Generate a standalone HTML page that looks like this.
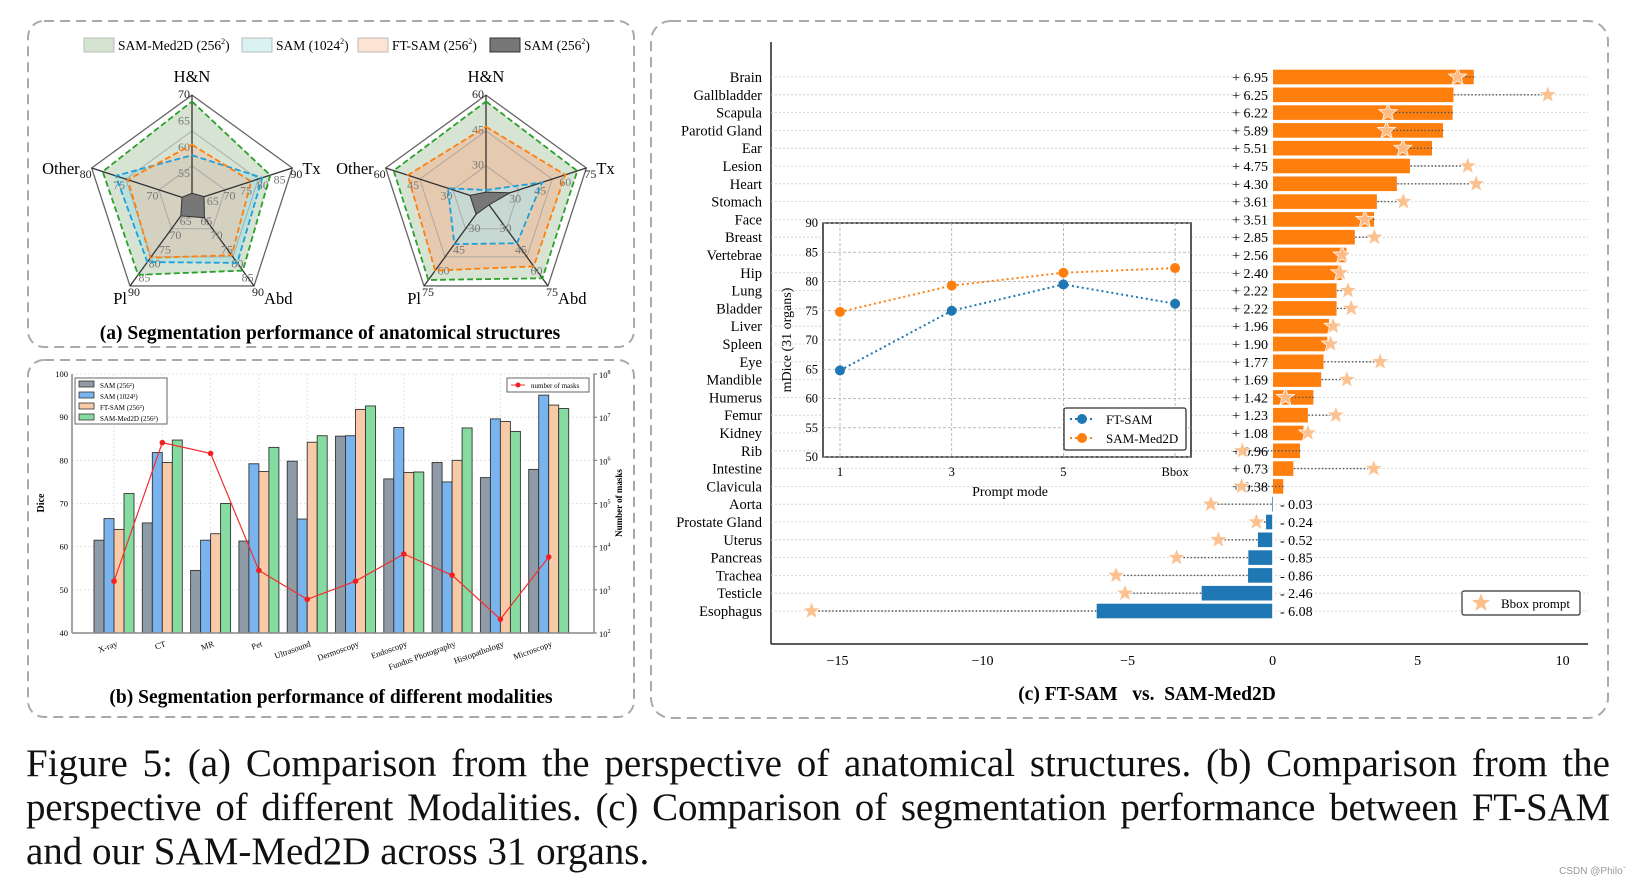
<!DOCTYPE html>
<html><head><meta charset="utf-8"><style>
html,body{margin:0;padding:0;background:#fff;}
body{width:1638px;height:886px;overflow:hidden;position:relative;font-family:"Liberation Serif",serif;}
svg{position:absolute;left:0;top:0;}
#caption{position:absolute;left:26px;top:742px;width:1584px;font-size:39px;line-height:44px;color:#111;font-family:"Liberation Serif",serif;}
#caption .ln{text-align:justify;text-align-last:justify;white-space:nowrap;}
#caption .l2{letter-spacing:-0.2px;}
#caption .last{text-align:left;text-align-last:left;}
#wm{position:absolute;right:12px;top:866px;font-size:10px;color:#999;font-family:"Liberation Sans",sans-serif;}
</style></head><body>
<svg id="fig" width="1638" height="886" xmlns="http://www.w3.org/2000/svg" font-family="Liberation Serif, serif">
  <rect x="28" y="21" width="606" height="326" rx="16" fill="none" stroke="#aaa" stroke-width="2" stroke-dasharray="10,6"/>
  <rect x="28" y="360" width="606" height="357" rx="16" fill="none" stroke="#aaa" stroke-width="2" stroke-dasharray="10,6"/>
  <rect x="651" y="21" width="957" height="697" rx="20" fill="none" stroke="#aaa" stroke-width="2" stroke-dasharray="10,6"/>
  <g id="ga"></g><g id="gb"></g><g id="gc"></g>
  <text x="330" y="339" text-anchor="middle" font-size="19.5" font-weight="bold">(a) Segmentation performance of anatomical structures</text>
  <text x="331" y="703" text-anchor="middle" font-size="19.5" font-weight="bold">(b) Segmentation performance of different modalities</text>
  <text x="1147" y="700" text-anchor="middle" font-size="19.5" font-weight="bold" xml:space="preserve">(c) FT-SAM   vs.  SAM-Med2D</text>
</svg>
<div id="caption"><div class="ln">Figure 5: (a) Comparison from the perspective of anatomical structures. (b) Comparison from the</div><div class="ln l2">perspective of different Modalities. (c) Comparison of segmentation performance between FT-SAM</div><div class="ln last">and our SAM-Med2D across 31 organs.</div></div>
<div id="wm">CSDN @Philo`</div>
<script>
// ---------- Panel (a) radar data (fraction of radius, axes: H&N, Tx, Abd, Pl, Other)
const radarAxes = ["H&N","Tx","Abd","Pl","Other"];
const radarLeftMed2D = [0.94,0.78,0.82,0.87,0.89];
const radarLeftSAM1024 = [0.43,0.70,0.73,0.72,0.76];
const radarLeftFTSAM = [0.53,0.59,0.64,0.67,0.64];
const radarLeftSAM256 = [0.07,0.12,0.2,0.18,0.1];
const radarRightMed2D = [0.94,0.91,0.91,0.93,0.92];
const radarRightSAM1024 = [0.10,0.56,0.50,0.51,0.38];
const radarRightFTSAM = [0.70,0.79,0.77,0.82,0.78];
const radarRightSAM256 = [0.08,0.24,0.05,0.16,0.16];
const radarLeftTicks = [["70","65","60","55"],["90","85","80","75","70","65"],["90","85","80","75","70","65"],["90","85","80","75","70","65"],["80","75","70"]];
const radarRightTicks = [["60","45","30"],["75","60","45","30"],["75","60","45","30"],["75","60","45","30"],["60","45","30"]];

// ---------- Panel (b) data
const modalities = ["X-ray","CT","MR","Pet","Ultrasound","Dermoscopy","Endoscopy","Fundus Photography","Histopathology","Microscopy"];
const diceSAM256 = [61.5,65.5,54.5,61.3,79.8,85.6,75.7,79.5,76,77.9];
const diceSAM1024 = [66.5,81.8,61.5,79.2,66.4,85.7,87.6,75,89.6,95.1];
const diceFTSAM = [64,79.5,63,77.4,84.2,91.8,77.2,80,89,92.8];
const diceMed2D = [72.3,84.7,70,83,85.7,92.6,77.3,87.5,86.7,92];
const maskLog10 = [3.2,6.41,6.16,3.45,2.78,3.2,3.83,3.34,2.32,3.76];
const diceTicks = [40,50,60,70,80,90,100];
const maskTicks = [2,3,4,5,6,7,8];

// ---------- Panel (c) data
const organs = ["Brain","Gallbladder","Scapula","Parotid Gland","Ear","Lesion","Heart","Stomach","Face","Breast","Vertebrae","Hip","Lung","Bladder","Liver","Spleen","Eye","Mandible","Humerus","Femur","Kidney","Rib","Intestine","Clavicula","Aorta","Prostate Gland","Uterus","Pancreas","Trachea","Testicle","Esophagus"];
const diffValues = [6.95,6.25,6.22,5.89,5.51,4.75,4.30,3.61,3.51,2.85,2.56,2.40,2.22,2.22,1.96,1.90,1.77,1.69,1.42,1.23,1.08,0.96,0.73,0.38,-0.03,-0.24,-0.52,-0.85,-0.86,-2.46,-6.08];
const bboxValues = [6.38,9.49,3.98,3.93,4.49,6.73,7.02,4.51,3.18,3.51,2.4,2.33,2.6,2.71,2.09,2.0,3.71,2.56,0.44,2.18,1.22,-1.04,3.49,-1.07,-2.13,-0.56,-1.87,-3.31,-5.4,-5.09,-15.9];
const diffTicks = [-15,-10,-5,0,5,10];
const promptModes = ["1","3","5","Bbox"];
const insetFTSAM = [64.8,75,79.5,76.2];
const insetMed2D = [74.8,79.3,81.5,82.3];
const insetTicks = [50,55,60,65,70,75,80,85,90];

const NS="http://www.w3.org/2000/svg";
function mk(parent,tag,attrs,text){const e=document.createElementNS(NS,tag);for(const k in attrs)e.setAttribute(k,attrs[k]);if(text!==undefined)e.textContent=text;parent.appendChild(e);return e;}

// ===== Panel A =====
const ga=document.getElementById('ga');
const legA=[["SAM-Med2D (256","rgba(150,185,140,0.4)","#bbb",84],["SAM (1024","rgba(160,225,225,0.4)","#bbb",242],["FT-SAM (256","rgba(250,200,165,0.5)","#bbb",358],["SAM (256","#777","#333",490]];
legA.forEach(l=>{
  const sw=mk(ga,'rect',{x:l[3],y:38,width:30,height:14,fill:l[1],stroke:l[2]});
  
  
  const t=mk(ga,'text',{x:l[3]+34,y:50,'font-size':13.5});
  
  
  mk(t,'tspan',{},l[0]);mk(t,'tspan',{'font-size':8,dy:-6},'2');mk(t,'tspan',{dy:6},')');
});
function radar(cx,cy,R,series,ticks,name){
  const g=mk(ga,'g',{});
  
  
  const ang=i=>(-90+72*i)*Math.PI/180;
  const pt=(i,f)=>[cx+R*f*Math.cos(ang(i)),cy+R*f*Math.sin(ang(i))];
  const poly=fs=>fs.map((f,i)=>pt(i,f).join(',')).join(' ');
  series.forEach(s=>{ if(s.fill){const p=mk(g,'polygon',{points:poly(s.v),fill:s.fill,stroke:'none'});
    
    }});
  [1].forEach(f=>mk(g,'polygon',{points:poly([f,f,f,f,f]),fill:'none',stroke:'#666','stroke-width':1.3}));
  [0.33,0.66].forEach(f=>mk(g,'polygon',{points:poly([f,f,f,f,f]),fill:'none',stroke:'#999','stroke-width':1,opacity:0.7}));
  for(let i=0;i<5;i++){const p=pt(i,1);mk(g,'line',{x1:cx,y1:cy,x2:p[0],y2:p[1],stroke:'#333','stroke-width':1.3});}
  ticks.forEach((tl,i)=>{tl.forEach((t,k)=>{const f=1-k*(1/(tl.length));const p=pt(i,f);
    const tt=mk(g,'text',{x:p[0]+(i==0?-8:(i==4?-6:4)),y:p[1]+(i==0?3:10),'font-size':12,fill:k==0?'#222':'#777','text-anchor':'middle'},t);
    
    });});
  series.forEach(s=>{const p=mk(g,'polygon',{points:poly(s.v),fill:s.solid||'none',stroke:s.stroke,'stroke-width':s.solid?1:1.8,'stroke-dasharray':s.solid?'':'6,3'});
    
    });
  const lp=[[cx,cy-R-13,'middle'],[cx+R*0.951+10,cy-R*0.309+6,'start'],[cx+R*0.588+10,cy+R*0.809+18,'start'],[cx-R*0.588-3,cy+R*0.809+18,'end'],[cx-R*0.951-12,cy-R*0.309+6,'end']];
  radarAxes.forEach((a,i)=>{const t=mk(g,'text',{x:lp[i][0],y:lp[i][1],'text-anchor':lp[i][2],'font-size':16.5},a);
    
    });
}
radar(192,200.6,105.5,[
 {n:'sam-med2d',v:radarLeftMed2D,fill:'rgba(150,185,140,0.38)',stroke:'#2ca02c'},
 {n:'sam-1024',v:radarLeftSAM1024,fill:'rgba(150,220,230,0.45)',stroke:'#1f9fd8'},
 {n:'ft-sam',v:radarLeftFTSAM,fill:'rgba(245,190,160,0.45)',stroke:'#ff7f0e'},
 {n:'sam-256',v:radarLeftSAM256,stroke:'#333',solid:'#777'}],radarLeftTicks,'radar-left');
radar(486,200.6,105.5,[
 {n:'sam-med2d',v:radarRightMed2D,fill:'rgba(150,185,140,0.38)',stroke:'#2ca02c'},
 {n:'ft-sam',v:radarRightFTSAM,fill:'rgba(245,175,140,0.5)',stroke:'#ff7f0e'},
 {n:'sam-1024',v:radarRightSAM1024,fill:'rgba(180,225,235,0.6)',stroke:'#1f9fd8'},
 {n:'sam-256',v:radarRightSAM256,stroke:'#333',solid:'#777'}],radarRightTicks,'radar-right');

// ===== Panel B =====
const gb=document.getElementById('gb');
const bx0=72,bx1=594,by0=633,by1=374;
const yb=v=>by0+(v-40)/60*(by1-by0);
const ybm=l=>by0+(l-2)/6*(by1-by0);
const xb=i=>114+i*48.3;
diceTicks.forEach(t=>{
  mk(gb,'line',{x1:bx0,x2:bx1,y1:yb(t),y2:yb(t),stroke:'#ddd','stroke-dasharray':'2,2','stroke-width':0.8});
  const tl=mk(gb,'text',{x:bx0-4,y:yb(t)+3,'text-anchor':'end','font-size':8.5},String(t));
  
  
});
maskTicks.forEach(t=>{
  const tl=mk(gb,'text',{x:bx1+5,y:ybm(t)+4,'font-size':8.5});
  
  
  mk(tl,'tspan',{},'10');mk(tl,'tspan',{'font-size':6,dy:-4},String(t));
  mk(gb,'line',{x1:bx1,x2:bx1+3,y1:ybm(t),y2:ybm(t),stroke:'#666'});
});
const barSeries=[[diceSAM256,'#8f9ba6','sam-256'],[diceSAM1024,'#7ab4ee','sam-1024'],[diceFTSAM,'#f9caa7','ft-sam'],[diceMed2D,'#86dba1','sam-med2d']];
modalities.forEach((m,i)=>{
  mk(gb,'line',{x1:xb(i),x2:xb(i),y1:by1,y2:by0,stroke:'#ddd','stroke-dasharray':'2,2','stroke-width':0.8});
  barSeries.forEach((s,k)=>{
    const x=xb(i)-20+k*10, y=yb(s[0][i]);
    const r=mk(gb,'rect',{x:x,y:y,width:10,height:by0-y,fill:s[1],stroke:'#333','stroke-width':0.9});
    
    
  });
  const t=mk(gb,'text',{x:xb(i)+4,y:by0+13,'text-anchor':'end','font-size':8.5,transform:`rotate(-20 ${xb(i)+4} ${by0+13})`},m);
  
  
});
mk(gb,'line',{x1:bx0,x2:bx1,y1:by0,y2:by0,stroke:'#888','stroke-width':1.5});
mk(gb,'line',{x1:bx0,x2:bx0,y1:by0,y2:by1,stroke:'#888','stroke-width':1.5});
mk(gb,'line',{x1:bx1,x2:bx1,y1:by0,y2:by1,stroke:'#888','stroke-width':1.5});
const linePts=maskLog10.map((v,i)=>xb(i)+','+ybm(v)).join(' ');
const ml=mk(gb,'polyline',{points:linePts,fill:'none',stroke:'#f03030','stroke-width':1.2});


maskLog10.forEach((v,i)=>{const c=mk(gb,'circle',{cx:xb(i),cy:ybm(v),r:2.8,fill:'#f02020'});
  
  });
const dl=mk(gb,'text',{x:44,y:503,'font-size':10,'font-weight':'bold','text-anchor':'middle',transform:'rotate(-90 44 503)'},'Dice');

const nl=mk(gb,'text',{x:622,y:503,'font-size':9,'font-weight':'bold','text-anchor':'middle',transform:'rotate(-90 622 503)'},'Number of masks');

const lb=mk(gb,'g',{});


mk(lb,'rect',{x:75,y:378,width:92,height:46,fill:'#fff',stroke:'#666'});
[['SAM (256²)','#8f9ba6'],['SAM (1024²)','#7ab4ee'],['FT-SAM (256²)','#f9caa7'],['SAM-Med2D (256²)','#86dba1']].forEach((l,k)=>{
  mk(lb,'rect',{x:79,y:381+k*11,width:15,height:6,fill:l[1],stroke:'#333','stroke-width':0.8});
  const t=mk(lb,'text',{x:100,y:388+k*11,'font-size':7},l[0]);
  
  
});
const lr=mk(gb,'g',{});


mk(lr,'rect',{x:507,y:378,width:82,height:14,fill:'#fff',stroke:'#666'});
mk(lr,'line',{x1:511,x2:525,y1:385,y2:385,stroke:'#f03030'});
mk(lr,'circle',{cx:518,cy:385,r:2.5,fill:'#f02020'});
mk(lr,'text',{x:531,y:388,'font-size':7},'number of masks');

// ===== Panel C =====
const gc=document.getElementById('gc');
const cx0=771,cx1=1588,cyTop=42,cyBot=644,zeroX=1272.6,unit=29.0;
const xc=v=>zeroX+v*unit;
const yc=i=>77+i*17.8;
mk(gc,'line',{x1:cx0,x2:cx0,y1:cyTop,y2:cyBot,stroke:'#222','stroke-width':1.5});
mk(gc,'line',{x1:cx0,x2:cx1,y1:cyBot,y2:cyBot,stroke:'#222','stroke-width':1.5});
diffTicks.forEach(t=>{
  const tl=mk(gc,'text',{x:xc(t),y:665,'text-anchor':'middle','font-size':14},(t<0?'\u2212':'')+Math.abs(t));
  
  
});
organs.forEach((o,i)=>{
  const y=yc(i),v=diffValues[i],b=bboxValues[i];
  mk(gc,'line',{x1:cx0,x2:cx1,y1:y,y2:y,stroke:'#ccc','stroke-dasharray':'2,2','stroke-width':0.8});
  const lab=mk(gc,'text',{x:762,y:y+5,'text-anchor':'end','font-size':14.5},o);
  
  
  const x1=Math.min(xc(0),xc(v)),w=Math.abs(xc(v)-xc(0));
  const r=mk(gc,'rect',{x:x1,y:y-7.7,width:Math.max(w,1.5),height:15.4,fill:v>=0?'#ff7f0e':'#1f77b4',stroke:'#fff','stroke-width':0.8});
  
  
  mk(gc,'line',{x1:xc(v),x2:xc(b),y1:y,y2:y,stroke:'#555','stroke-dasharray':'1.5,2','stroke-width':1.4});
  const vt=v>=0?mk(gc,'text',{x:1268,y:y+5,'text-anchor':'end','font-size':14},'+ '+v.toFixed(2))
             :mk(gc,'text',{x:1280,y:y+5,'font-size':14},'- '+Math.abs(v).toFixed(2));
  
  
  const sx=xc(b),pts=[];
  for(let k=0;k<10;k++){const a=-Math.PI/2+k*Math.PI/5,rr=k%2?4:9.5;pts.push((sx+rr*Math.cos(a)).toFixed(1)+','+(y+rr*Math.sin(a)).toFixed(1));}
  const st=mk(gc,'polygon',{points:pts.join(' '),fill:'#fdbf8c',stroke:'#fff','stroke-width':0.8,opacity:0.95});
  
  
});
const bl=mk(gc,'g',{});


mk(bl,'rect',{x:1462,y:591,width:118,height:24,rx:2,fill:'#fff',stroke:'#333','stroke-width':1.2});
{const pts=[];for(let k=0;k<10;k++){const a=-Math.PI/2+k*Math.PI/5,rr=k%2?4:9.5;pts.push((1481+rr*Math.cos(a)).toFixed(1)+','+(603+rr*Math.sin(a)).toFixed(1));}
 mk(bl,'polygon',{points:pts.join(' '),fill:'#fdbf8c'});}
mk(bl,'text',{x:1501,y:608,'font-size':13},'Bbox prompt');

const gi=mk(gc,'g',{});


const ix0=823,ix1=1191,iy0=457,iy1=223;
const xi=i=>840+i*111.7;
const yi=v=>iy0+(v-50)/40*(iy1-iy0);
mk(gi,'rect',{x:ix0,y:iy1,width:ix1-ix0,height:iy0-iy1,fill:'#fff',stroke:'#222','stroke-width':1.5});
insetTicks.forEach(t=>{
  mk(gi,'line',{x1:ix0,x2:ix1,y1:yi(t),y2:yi(t),stroke:'#aaa','stroke-dasharray':'3,2','stroke-width':0.8});
  const tl=mk(gi,'text',{x:ix0-5,y:yi(t)+4,'text-anchor':'end','font-size':12.5},String(t));
  
  
});
promptModes.forEach((p,i)=>{
  mk(gi,'line',{x1:xi(i),x2:xi(i),y1:iy1,y2:iy0,stroke:'#aaa','stroke-dasharray':'3,2','stroke-width':0.8});
  const tl=mk(gi,'text',{x:xi(i),y:476,'text-anchor':'middle','font-size':12.5},p);
  
  
});
[[insetFTSAM,'#1f77b4','ft-sam'],[insetMed2D,'#ff7f0e','sam-med2d']].forEach(s=>{
  const pl=mk(gi,'polyline',{points:s[0].map((v,i)=>xi(i)+','+yi(v)).join(' '),fill:'none',stroke:s[1],'stroke-width':2,'stroke-dasharray':'2,3'});
  
  
  s[0].forEach((v,i)=>{const c=mk(gi,'circle',{cx:xi(i),cy:yi(v),r:5,fill:s[1]});
    
    });
});
const ilx=mk(gi,'text',{x:1010,y:496,'text-anchor':'middle','font-size':14},'Prompt mode');

const ily=mk(gi,'text',{x:791,y:340,'text-anchor':'middle','font-size':14,transform:'rotate(-90 791 340)'},'mDice (31 organs)');

const il=mk(gi,'g',{});


mk(il,'rect',{x:1064,y:408,width:122,height:42,rx:2,fill:'#fff',stroke:'#333','stroke-width':1.3});
[['FT-SAM','#1f77b4'],['SAM-Med2D','#ff7f0e']].forEach((l,k)=>{
  const y=419+k*19;
  mk(il,'line',{x1:1070,x2:1094,y1:y,y2:y,stroke:l[1],'stroke-width':2,'stroke-dasharray':'2,3'});
  mk(il,'circle',{cx:1082,cy:y,r:5,fill:l[1]});
  mk(il,'text',{x:1106,y:y+5,'font-size':13},l[0]);
});
</script>
</body></html>
